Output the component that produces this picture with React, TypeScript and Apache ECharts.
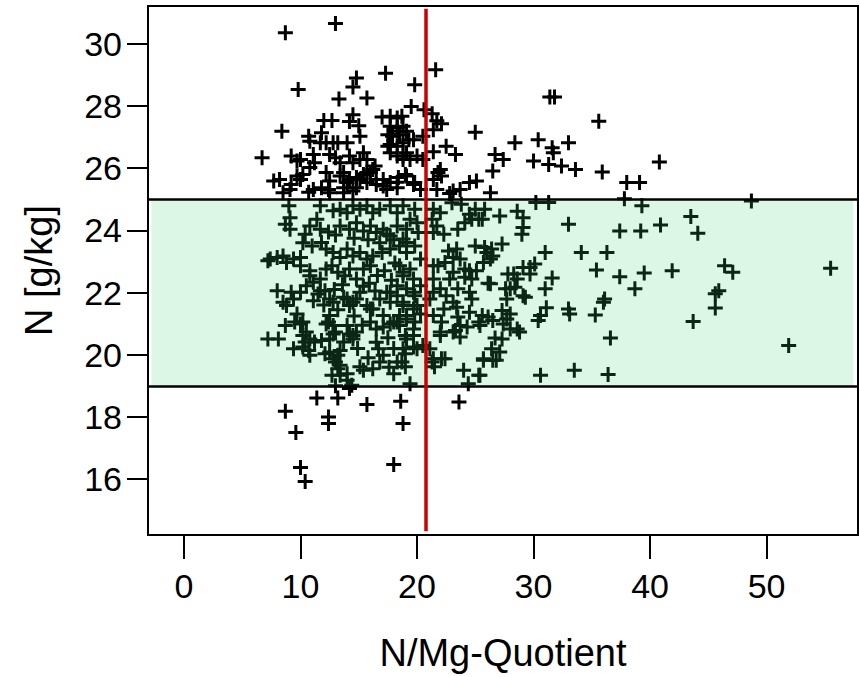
import React, { useEffect, useRef } from "react";
import * as echarts from "echarts";

// N/Mg quotient (x) vs N [g/kg] (y)
const aboveRange: number[][] = [
  [8.7,30.36],[13.0,30.66],[21.6,29.17],[17.3,29.06],[14.8,28.90],[14.5,28.61],[9.8,28.53],[13.3,28.23],[15.7,28.26],[19.8,28.69],
  [19.5,27.99],[20.6,27.88],[21.3,27.75],[21.7,27.53],[22.1,27.43],[21.4,27.24],[17.0,27.65],[18.3,27.62],[18.7,27.67],[12.0,27.54],
  [12.7,27.54],[14.2,27.50],[14.5,27.72],[15.0,27.37],[8.4,27.19],[11.8,27.14],[15.1,27.03],[10.7,27.03],[10.8,26.87],[12.2,26.82],
  [12.8,26.82],[14.0,26.82],[17.5,27.08],[18.3,27.19],[19.1,27.19],[19.7,26.92],[20.5,27.03],[17.5,26.71],[17.7,26.50],[25.0,27.16],
  [22.5,26.71],[23.3,26.44],[21.4,26.53],[6.7,26.34],[9.2,26.39],[9.7,26.23],[11.1,26.44],[11.2,26.18],[10.8,26.02],[12.5,26.44],
  [13.4,26.18],[14.2,26.39],[14.5,26.18],[15.4,26.50],[15.7,26.28],[18.8,26.39],[19.4,26.28],[20.0,26.39],[20.5,26.28],[26.7,26.44],
  [26.5,25.91],[7.7,25.59],[8.2,25.64],[9.2,25.48],[10.0,25.64],[10.2,25.80],[10.7,25.23],[12.2,25.86],[12.5,25.59],[13.4,25.75],
  [14.0,25.54],[15.1,25.64],[15.7,25.86],[16.2,25.96],[16.5,25.64],[17.1,25.43],[18.3,25.55],[19.1,25.75],[19.7,25.48],[20.3,25.32],
  [21.4,25.64],[21.8,25.86],[22.1,25.75],[21.7,25.32],[23.1,25.27],[23.7,25.32],[24.5,25.54],[25.1,25.59],[26.3,25.21],[8.5,25.21],
  [9.1,25.32],[11.1,25.32],[11.8,25.37],[12.4,25.32],[13.7,25.37],[14.5,25.27],[28.4,26.82],[30.4,26.92],[31.4,28.29],[31.8,28.29],
  [31.6,26.66],[31.7,26.50],[31.3,26.12],[30.0,26.23],[27.4,26.28],[22.0,25.96],[22.8,25.19],[18.8,27.35],[19.3,26.92],[19.8,25.54],
  [35.6,27.51],[33.0,26.82],[32.4,26.07],[33.6,25.96],[35.9,25.88],[38.0,25.54],[39.1,25.54],[40.8,26.20],[37.8,25.02],[11.7,26.82],
  [13.2,26.82],[10.0,26.28],[13.0,26.34],[15.1,26.28],[9.7,25.75],[13.7,25.86],[14.2,25.64],[14.8,25.70],[15.4,25.80],[16.0,25.86],
  [16.4,26.07],[15.7,25.54],[16.5,25.48],[17.1,25.64],[17.7,25.54],[17.4,25.32],[18.3,25.37],[18.4,25.70],[19.0,25.80],[12.5,25.21],
  [13.7,25.21],[14.8,25.37],[17.7,27.67],[17.7,27.35],[18.3,27.30],[17.9,27.03],[18.5,27.08],[17.7,26.76],[18.3,26.71],[18.8,26.82],
  [18.3,26.39],[18.8,26.28],[19.1,26.50]
];

const withinRange: number[][] = [
  [48.7,24.95],[30.2,24.90],[31.3,24.90],[39.3,24.79],[25.8,24.68],[27.1,24.46],[25.6,24.36],[28.6,24.62],[29.1,24.41],[29.1,24.09],
  [29.0,23.88],[33.0,24.20],[37.4,23.98],[39.2,23.98],[40.9,24.17],[43.5,24.45],[44.1,23.91],[27.3,23.56],[26.0,23.29],[26.3,23.08],
  [25.7,22.97],[31.0,23.29],[34.1,23.29],[36.3,23.29],[30.1,22.92],[29.1,22.81],[29.7,22.60],[27.8,22.60],[28.6,22.44],[31.6,22.47],
  [35.4,22.73],[37.4,22.51],[39.5,22.63],[41.9,22.70],[46.4,22.86],[47.1,22.65],[55.5,22.78],[26.1,22.30],[27.6,22.12],[28.4,22.17],
  [29.1,21.90],[31.0,22.12],[38.7,22.12],[45.9,22.06],[45.6,21.96],[36.1,21.79],[36.0,21.69],[31.1,21.51],[33.0,21.47],[33.1,21.31],
  [35.3,21.28],[45.6,21.50],[43.7,21.07],[25.6,21.26],[27.3,21.42],[26.5,21.10],[27.7,21.15],[28.6,20.83],[28.8,20.73],[30.4,21.10],
  [36.6,20.54],[26.7,20.54],[26.4,20.19],[27.1,20.09],[26.8,19.82],[25.7,19.82],[51.9,20.30],[30.6,19.34],[33.5,19.50],[36.4,19.36],
  [25.4,19.34],[21.4,24.68],[22.0,24.57],[21.3,24.36],[21.7,24.14],[21.4,23.93],[22.3,23.88],[23.5,24.04],[24.1,24.25],[24.5,24.52],
  [25.0,24.68],[24.7,24.36],[25.3,24.36],[23.0,24.89],[23.8,24.84],[22.7,23.34],[23.4,23.40],[23.1,23.13],[23.7,23.08],[22.4,22.97],
  [21.8,22.86],[24.1,22.76],[25.0,23.50],[25.8,23.45],[26.4,23.40],[26.5,23.18],[29.7,22.81],[28.3,22.60],[29.3,21.85],[28.0,22.12],
  [30.6,21.26],[24.5,22.70],[24.1,22.49],[24.7,22.44],[22.8,22.44],[23.5,22.12],[24.5,22.01],[24.7,21.79],[23.1,21.69],[23.4,21.53],
  [26.3,22.28],[27.7,21.79],[28.0,21.31],[26.1,21.21],[21.4,22.44],[22.0,22.12],[21.1,21.79],[22.3,21.47],[21.4,21.26],[22.1,21.05],
  [24.5,21.37],[25.3,21.05],[23.5,21.21],[18.8,24.79],[19.8,24.68],[19.4,24.36],[20.0,24.25],[19.1,24.04],[20.1,23.93],[18.8,23.72],
  [19.8,23.50],[19.1,23.29],[20.3,23.08],[18.5,22.86],[19.4,22.76],[18.8,22.54],[19.7,22.44],[20.3,22.22],[19.1,22.12],[19.8,21.90],
  [18.8,21.69],[19.7,21.47],[20.3,21.31],[19.1,21.15],[19.8,21.05],[22.0,20.73],[23.3,20.78],[23.7,20.94],[24.3,20.89],[23.7,20.57],
  [25.4,20.94],[27.4,20.99],[28.0,20.83],[27.3,20.51],[26.5,19.82],[21.3,19.77],[21.5,19.61],[22.1,19.87],[22.4,19.87],[24.0,19.50],
  [25.3,19.34],[24.4,19.07],[19.4,19.07],[19.7,20.83],[19.1,20.51],[19.7,20.25],[18.8,20.19],[20.5,20.30],[20.0,20.19],[18.7,19.77],
  [19.0,19.61],[8.7,20.94],[10.0,20.99],[10.5,20.73],[10.8,20.51],[10.4,20.41],[11.2,20.41],[11.8,20.46],[12.4,21.05],[13.0,20.73],
  [12.5,20.51],[13.7,20.41],[14.2,20.67],[14.8,20.73],[14.5,20.51],[7.2,20.51],[8.1,20.51],[9.4,20.19],[10.2,20.25],[10.7,20.14],
  [10.8,19.98],[12.1,20.03],[12.5,20.09],[13.2,19.98],[13.4,20.14],[13.0,19.77],[13.2,19.55],[12.7,19.34],[13.4,19.34],[14.0,19.39],
  [14.0,19.18],[14.4,19.02],[13.0,19.00],[15.1,19.61],[15.4,19.50],[16.7,20.19],[17.1,19.98],[16.8,19.77],[18.3,19.77],[18.0,19.39],
  [19.0,20.03],[16.0,21.05],[16.5,20.83],[17.1,20.89],[17.7,20.99],[18.3,21.05],[19.0,20.62],[7.2,23.02],[8.8,22.97],[10.0,22.86],
  [10.8,22.70],[8.0,22.06],[9.2,22.01],[8.5,21.69],[8.8,21.58],[10.0,22.01],[10.5,22.22],[11.1,22.33],[11.7,22.06],[11.1,21.74],
  [9.5,21.05],[10.2,20.62],[12.2,20.99],[12.8,20.67],[12.8,19.87],[13.4,19.66],[14.0,20.94],[14.5,20.62],[12.8,21.69],[13.7,21.85],
  [14.5,21.69],[15.1,22.01],[16.0,21.47],[17.7,22.01],[18.3,22.22],[18.8,22.65],[19.7,22.01],[20.0,21.58],[19.1,21.26],[18.5,20.94],
  [19.7,20.62],[21.4,22.86],[23.1,22.65],[25.1,22.70],[21.4,22.01],[22.5,21.90],[23.1,20.73],[22.0,20.62],[21.1,20.19],[21.4,19.87],
  [25.7,19.87],[9.0,24.79],[9.1,24.41],[8.7,24.20],[9.1,24.04],[10.4,23.88],[10.8,24.14],[11.4,24.36],[11.7,24.04],[11.7,24.79],
  [12.8,24.63],[13.4,24.68],[14.0,24.57],[14.5,24.79],[15.1,24.68],[15.7,24.79],[16.2,24.57],[16.8,24.68],[17.7,24.79],[18.3,24.57],
  [13.4,24.14],[14.2,24.04],[14.8,24.25],[15.4,23.98],[16.0,24.14],[16.5,23.93],[17.1,24.04],[17.7,23.82],[18.3,24.14],[7.4,23.08],
  [8.0,23.13],[8.5,23.18],[9.4,23.08],[10.0,23.13],[11.8,23.61],[12.2,23.40],[12.8,23.29],[13.4,23.13],[14.0,23.40],[14.5,23.18],
  [15.1,23.29],[15.7,23.08],[16.2,23.18],[17.0,23.29],[17.7,23.40],[18.5,23.50],[19.1,23.61],[10.8,22.54],[11.7,22.44],[12.2,22.76],
  [12.7,22.86],[13.2,22.65],[13.8,22.54],[14.2,22.76],[14.8,22.44],[15.4,22.76],[16.0,22.86],[9.4,21.79],[9.7,21.31],[10.2,21.05],
  [12.1,22.06],[12.5,21.79],[14.0,21.79],[14.2,21.58],[14.8,21.79],[15.7,21.58],[16.2,21.47],[16.8,21.79],[17.4,22.01],[17.7,21.69],
  [18.3,21.90],[18.8,21.58],[18.5,21.26],[18.0,21.05],[17.1,21.26],[12.5,21.26],[12.8,20.94],
  [13.0,23.85],[14.6,23.75],[15.8,23.70],[16.8,23.60],[17.4,23.88],[18.0,23.70],[12.4,23.95],[11.0,23.50],[10.2,23.60],[15.9,22.30],
  [16.6,22.55],[17.2,22.70],[17.8,22.40],[18.1,22.95],[16.4,22.05],[15.4,22.20],[13.6,22.25],[12.9,22.10],[11.5,21.95],[12.0,21.60],
  [13.2,21.45],[14.6,21.25],[15.3,20.95],[16.5,20.40],[17.5,20.55],[18.0,20.20],[17.6,19.60],[15.8,19.90],[14.9,20.20],[16.2,19.55]
];

const belowRange: number[][] = [
  [8.7,18.18],[9.6,17.50],[11.4,18.61],[13.2,18.61],[14.2,18.91],[12.4,18.00],[12.4,17.79],[15.7,18.40],[18.6,18.50],[18.8,17.79],
  [23.6,18.48],[10.0,16.37],[10.4,15.92],[18.0,16.47]
];

const xTicks = [0, 10, 20, 30, 40, 50];
const yTicks = [16, 18, 20, 22, 24, 26, 28, 30];
const optimumRange = [19, 25];
const optimumQuotient = 20.77;

const FONT = "Liberation Sans, Arial, Helvetica, sans-serif";
const PLUS = "path://M5.6,0H8.4V5.6H14V8.4H8.4V14H5.6V8.4H0V5.6H5.6Z";

export default function App() {
  const ref = useRef<HTMLDivElement>(null);
  useEffect(() => {
    if (!ref.current) return;
    const chart = echarts.init(ref.current, undefined, { renderer: "svg" });
    const xMin = -3.09, xMax = 57.85, yMin = 14.2, yMax = 31.22;
    const points = [...aboveRange, ...withinRange, ...belowRange];
    chart.setOption({
      animation: false,
      backgroundColor: "#fff",
      grid: { left: 148, top: 6, right: 2, bottom: 140, show: true, borderColor: "#000", borderWidth: 2, backgroundColor: "transparent" },
      xAxis: {
        type: "value", min: xMin, max: xMax,
        axisLine: { show: true, onZero: false, lineStyle: { color: "#000", width: 2 } },
        splitLine: { show: false },
        axisTick: { show: true, customValues: xTicks, length: 24, lineStyle: { color: "#000", width: 2 } },
        axisLabel: { customValues: xTicks, margin: 34, fontSize: 34, color: "#000", fontFamily: FONT },
        name: "N/Mg-Quotient", nameLocation: "middle", nameGap: 99,
        nameTextStyle: { fontSize: 38, color: "#000", fontFamily: FONT },
      },
      yAxis: {
        type: "value", min: yMin, max: yMax,
        axisLine: { show: true, onZero: false, lineStyle: { color: "#000", width: 2 } },
        splitLine: { show: false },
        axisTick: { show: true, customValues: yTicks, length: 21, lineStyle: { color: "#000", width: 2 } },
        axisLabel: { customValues: yTicks, margin: 26, fontSize: 34, color: "#000", fontFamily: FONT },
        name: "N [g/kg]", nameLocation: "middle", nameGap: 90,
        nameTextStyle: { fontSize: 38, color: "#000", fontFamily: FONT },
      },
      series: [
        {
          type: "scatter",
          z: 2,
          symbol: PLUS,
          symbolSize: 15,
          itemStyle: { color: "#000", opacity: 1 },
          silent: true,
          data: points,
          markArea: {
            silent: true,
            z: 3,
            itemStyle: { color: "rgba(61,211,117,0.18)", borderWidth: 0 },
            label: { show: false },
            data: [[{ coord: [-2.8, optimumRange[0]] }, { coord: [57.45, optimumRange[1]] }]],
          },
          markLine: {
            silent: true,
            z: 5,
            symbol: ["none", "none"],
            label: { show: false },
            lineStyle: { color: "#000", width: 2.5, type: "solid" },
            emphasis: { disabled: true },
            data: [
              { yAxis: optimumRange[0], lineStyle: { color: "#000", width: 2.5, type: "solid" } },
              { yAxis: optimumRange[1], lineStyle: { color: "#000", width: 2.5, type: "solid" } },
              [
                { coord: [optimumQuotient, 14.32], lineStyle: { color: "#cc0000", width: 3.5, type: "solid" } },
                { coord: [optimumQuotient, 31.13] },
              ],
            ],
          },
        },
      ],
    });
    return () => chart.dispose();
  }, []);
  return <div ref={ref} style={{ position: "fixed", left: 0, top: 0, width: 860, height: 677 }} />;
}
